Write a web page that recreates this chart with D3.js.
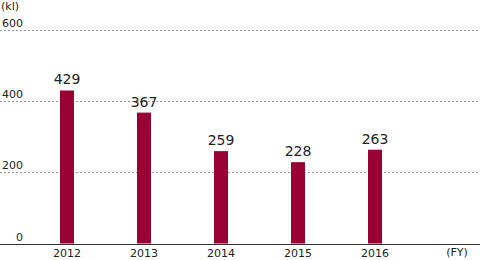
<!DOCTYPE html>
<html>
<head>
<meta charset="utf-8">
<script src="https://cdn.jsdelivr.net/npm/d3@7"></script>
<style>
  body { margin: 0; background: #fff; }
  svg text { font-family: "DejaVu Sans", sans-serif; fill: #222; }
</style>
</head>
<body>
<svg id="chart" width="480" height="260"></svg>
<script>
const years = ["2012", "2013", "2014", "2015", "2016"];
const values = [429, 367, 259, 228, 263];
const yTicks = [0, 200, 400, 600];

const svg = d3.select("#chart");

const x = d3.scalePoint().domain(years).range([67, 375]);
const y = d3.scaleLinear().domain([0, 600]).range([243.5, 29.5]);
const barW = 14;

// grid lines
svg.append("g")
  .selectAll("line")
  .data(yTicks.filter((d) => d > 0))
  .enter()
  .append("line")
  .attr("x1", 0)
  .attr("x2", 480)
  .attr("y1", (d) => Math.round(y(d)) + 0.5)
  .attr("y2", (d) => Math.round(y(d)) + 0.5)
  .attr("stroke", "#999")
  .attr("stroke-dasharray", "2,2");

// y labels
svg.append("g")
  .selectAll("text")
  .data(yTicks)
  .enter()
  .append("text")
  .attr("x", 23)
  .attr("y", (d) => Math.round(y(d)) - 3)
  .attr("text-anchor", "end")
  .style("font-size", "11px")
  .text((d) => d);

svg.append("text")
  .attr("x", 1)
  .attr("y", 10)
  .style("font-size", "11px")
  .text("(kl)");

// bars
svg.append("g")
  .selectAll("rect")
  .data(values)
  .enter()
  .append("rect")
  .attr("x", (d, i) => x(years[i]) - barW / 2)
  .attr("y", (d) => y(d))
  .attr("width", barW)
  .attr("height", (d) => y(0) - y(d))
  .attr("fill", "#990033");

// value labels
svg.append("g")
  .selectAll("text")
  .data(values)
  .enter()
  .append("text")
  .attr("x", (d, i) => x(years[i]))
  .attr("y", (d) => y(d) - 6)
  .attr("text-anchor", "middle")
  .style("font-size", "14px")
  .text((d) => d);

// baseline
svg.append("line")
  .attr("x1", 0)
  .attr("x2", 480)
  .attr("y1", Math.round(y(0)) + 0.5)
  .attr("y2", Math.round(y(0)) + 0.5)
  .attr("stroke", "#333");

// x labels
svg.append("g")
  .selectAll("text")
  .data(years)
  .enter()
  .append("text")
  .attr("x", (d) => x(d))
  .attr("y", 257)
  .attr("text-anchor", "middle")
  .style("font-size", "11px")
  .text((d) => d);

svg.append("text")
  .attr("x", 457)
  .attr("y", 256)
  .attr("text-anchor", "middle")
  .style("font-size", "11px")
  .text("(FY)");
</script>
</body>
</html>
